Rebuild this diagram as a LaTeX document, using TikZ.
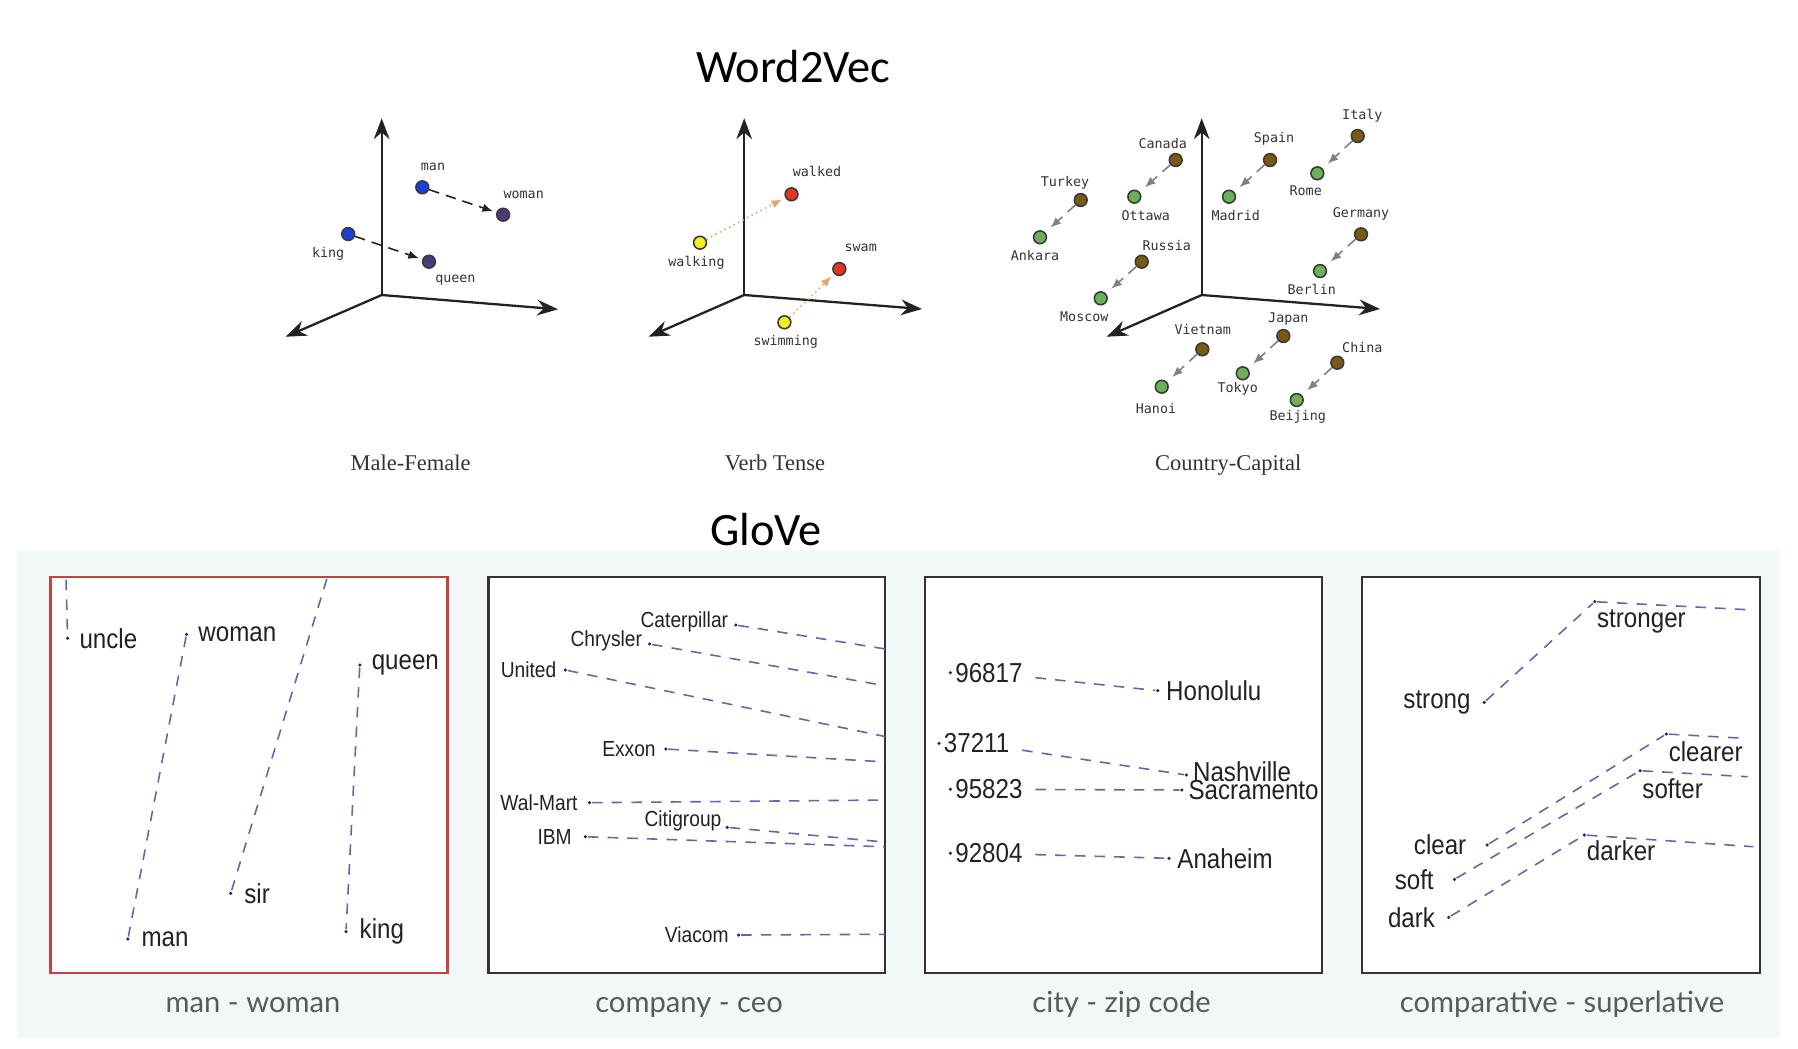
\documentclass[tikz,border=0pt]{standalone}
\usepackage{fontspec}
\setmainfont{Liberation Serif}
\newfontfamily\headfont{Carlito}
\newfontfamily\vecfont{DejaVu Sans Mono}
\newfontfamily\glovefont[FakeStretch=0.88]{Liberation Sans}
\newfontfamily\panelfont{Lato}
\usepackage{tikz}
\usetikzlibrary{arrows.meta, positioning}

\definecolor{AxisGray}{HTML}{222222}
\definecolor{TextGray}{HTML}{333333}
\definecolor{DotEdge}{HTML}{3A3A3A}
\definecolor{MaleBlue}{HTML}{1E3FE0}
\definecolor{FemPurple}{HTML}{4A3A78}
\definecolor{PastRed}{HTML}{E8331E}
\definecolor{IngYellow}{HTML}{F2EE22}
\definecolor{TenseArrow}{HTML}{E6A46A}
\definecolor{CountryBrown}{HTML}{7A5A12}
\definecolor{CapitalGreen}{HTML}{6CB058}
\definecolor{PanelBg}{HTML}{F2F7F8}
\definecolor{PanelEdge}{HTML}{333333}
\definecolor{BoxRed}{HTML}{C8403F}
\definecolor{GloveLine}{HTML}{6464B4}
\definecolor{GloveDot}{HTML}{23236B}
\definecolor{GloveText}{HTML}{222222}
\definecolor{CapGray}{HTML}{5A5A5A}

\begin{document}
\begin{tikzpicture}[x=0.01cm, y=-0.01cm, >=Stealth,
  axis/.style={->, AxisGray, line width=0.65pt},
  wdot/.style={circle, draw=DotEdge, line width=0.45pt, inner sep=0pt, minimum size=0.128cm},
  wlbl/.style={font=\vecfont\fontsize{3.8}{4.5}\selectfont, text=TextGray, inner sep=0pt},
  vecarrow/.style={densely dashed, line width=0.45pt, -{Latex[length=3pt, width=2.4pt]}, shorten >=1pt},
  subcap/.style={font=\fontsize{6.4}{7.5}\selectfont, text=TextGray, anchor=base},
  head/.style={font=\headfont\fontsize{13.2}{15}\selectfont},
  panel/.style={draw=PanelEdge, line width=0.6pt, fill=white},
  gdot/.style={circle, fill=GloveDot, inner sep=0pt, minimum size=0.035cm},
  glbl/.style={font=\glovefont\fontsize{7.8}{9}\selectfont, text=GloveText, inner sep=0.5pt},
  gsmall/.style={glbl, font=\glovefont\fontsize{6.2}{7}\selectfont},
  pair/.style={GloveLine, line width=0.45pt, dash pattern=on 3pt off 2.6pt},
  pcap/.style={font=\panelfont\fontsize{8.3}{10}\selectfont, text=CapGray, anchor=base}
]
  \useasboundingbox (0,0) rectangle (1798,1048);

  % Titles
  \node[head] (w2v) at (793.5,66.5) {Word2Vec};
  \fill[PanelBg] (17,550) rectangle (1780,1038);
  \node[head] (glove) at (766,530) {GloVe};

  % Male-Female: axes
  \coordinate (mf-o) at (381.7,295);
  \coordinate (mf-z) at (381.7,118.3);
  \coordinate (mf-x) at (558,309.3);
  \coordinate (mf-y) at (285.7,336.7);
  \draw[axis] (mf-o) -- (mf-z);
  \draw[axis] (mf-o) -- (mf-x);
  \draw[axis] (mf-o) -- (mf-y);

  % Male-Female: points
  \node[wdot, fill=MaleBlue] (mf-man) at (422.3,187.3) {};
  \node[wdot, fill=FemPurple] (mf-woman) at (503.1,214.7) {};
  \node[wdot, fill=MaleBlue] (mf-king) at (348.2,234) {};
  \node[wdot, fill=FemPurple] (mf-queen) at (429,261.7) {};
  \node[wlbl] (mf-man-l) at (433,167.3) {man};
  \node[wlbl] (mf-woman-l) at (523.7,195.3) {woman};
  \node[wlbl] (mf-king-l) at (328.1,254.3) {king};
  \node[wlbl] (mf-queen-l) at (455.4,280.3) {queen};
  \draw[vecarrow, AxisGray] (mf-man) -- (mf-woman);
  \draw[vecarrow, AxisGray] (mf-king) -- (mf-queen);
  \node[subcap] (mf-cap) at (410.5,470.7) {Male-Female};

  % Verb Tense: axes
  \coordinate (vt-o) at (744.2,295);
  \coordinate (vt-z) at (744.2,118.3);
  \coordinate (vt-x) at (921.9,309);
  \coordinate (vt-y) at (648.7,336.7);
  \draw[axis] (vt-o) -- (vt-z);
  \draw[axis] (vt-o) -- (vt-x);
  \draw[axis] (vt-o) -- (vt-y);

  % Verb Tense: points
  \node[wdot, fill=PastRed] (vt-walked) at (791.5,194.3) {};
  \node[wdot, fill=IngYellow] (vt-walking) at (700,242.7) {};
  \node[wdot, fill=PastRed] (vt-swam) at (839.3,269) {};
  \node[wdot, fill=IngYellow] (vt-swimming) at (784.4,322.3) {};
  \node[wlbl] (vt-walked-l) at (817,171) {walked};
  \node[wlbl] (vt-walking-l) at (696.4,262.7) {walking};
  \node[wlbl] (vt-swam-l) at (860.7,247.7) {swam};
  \node[wlbl] (vt-swimming-l) at (785.7,341.7) {swimming};
  \draw[vecarrow, TenseArrow, densely dotted] (vt-walking) -- (vt-walked);
  \draw[vecarrow, TenseArrow, densely dotted] (vt-swimming) -- (vt-swam);
  \node[subcap] (vt-cap) at (775,470.7) {Verb Tense};

  % Country-Capital: axes
  \coordinate (cc-o) at (1201.7,295);
  \coordinate (cc-z) at (1201.7,118.3);
  \coordinate (cc-x) at (1380,309);
  \coordinate (cc-y) at (1106.7,336.7);
  \draw[axis] (cc-o) -- (cc-z);
  \draw[axis] (cc-o) -- (cc-x);
  \draw[axis] (cc-o) -- (cc-y);

  % Country-Capital: countries
  \node[wdot, fill=CountryBrown] (cc-canada) at (1175.7,160) {};
  \node[wdot, fill=CountryBrown] (cc-turkey) at (1080.7,200) {};
  \node[wdot, fill=CountryBrown] (cc-spain) at (1270,160) {};
  \node[wdot, fill=CountryBrown] (cc-italy) at (1357.7,136) {};
  \node[wdot, fill=CountryBrown] (cc-germany) at (1361,234.3) {};
  \node[wdot, fill=CountryBrown] (cc-russia) at (1141.7,261.7) {};
  \node[wdot, fill=CountryBrown] (cc-vietnam) at (1202.3,349.3) {};
  \node[wdot, fill=CountryBrown] (cc-japan) at (1283.3,336) {};
  \node[wdot, fill=CountryBrown] (cc-china) at (1337.3,362.7) {};
  \node[wlbl] at (1162.7,143.3) (cc-canada-l) {Canada};
  \node[wlbl] at (1065,183.3) (cc-turkey-l) {Turkey};
  \node[wlbl] at (1274,139.3) (cc-spain-l) {Spain};
  \node[wlbl] at (1362.3,116) (cc-italy-l) {Italy};
  \node[wlbl] at (1361,214) (cc-germany-l) {Germany};
  \node[wlbl] at (1166.7,245.7) (cc-russia-l) {Russia};
  \node[wlbl] at (1202.7,330) (cc-vietnam-l) {Vietnam};
  \node[wlbl] at (1288.3,319) (cc-japan-l) {Japan};
  \node[wlbl] at (1362.3,347.7) (cc-china-l) {China};

  % Country-Capital: capitals
  \node[wdot, fill=CapitalGreen] (cc-ottawa) at (1134.3,196.7) {};
  \node[wdot, fill=CapitalGreen] (cc-ankara) at (1040,237.3) {};
  \node[wdot, fill=CapitalGreen] (cc-madrid) at (1229,196.7) {};
  \node[wdot, fill=CapitalGreen] (cc-rome) at (1317.3,173.3) {};
  \node[wdot, fill=CapitalGreen] (cc-berlin) at (1320,271) {};
  \node[wdot, fill=CapitalGreen] (cc-moscow) at (1100.7,298.3) {};
  \node[wdot, fill=CapitalGreen] (cc-hanoi) at (1161.7,386.7) {};
  \node[wdot, fill=CapitalGreen] (cc-tokyo) at (1242.7,373.3) {};
  \node[wdot, fill=CapitalGreen] (cc-beijing) at (1296.7,400) {};
  \node[wlbl] at (1145.7,215.7) (cc-ottawa-l) {Ottawa};
  \node[wlbl] at (1035,256) (cc-ankara-l) {Ankara};
  \node[wlbl] at (1235.7,215.7) (cc-madrid-l) {Madrid};
  \node[wlbl] at (1305.7,190.7) (cc-rome-l) {Rome};
  \node[wlbl] at (1311.7,289.3) (cc-berlin-l) {Berlin};
  \node[wlbl] at (1084.3,316.7) (cc-moscow-l) {Moscow};
  \node[wlbl] at (1156,408.3) (cc-hanoi-l) {Hanoi};
  \node[wlbl] at (1237.7,389) (cc-tokyo-l) {Tokyo};
  \node[wlbl] at (1297.7,417.3) (cc-beijing-l) {Beijing};

  % Country-Capital: arrows
  \draw[vecarrow, gray, shorten >=2pt] (cc-canada) -- (cc-ottawa);
  \draw[vecarrow, gray, shorten >=2pt] (cc-turkey) -- (cc-ankara);
  \draw[vecarrow, gray, shorten >=2pt] (cc-spain) -- (cc-madrid);
  \draw[vecarrow, gray, shorten >=2pt] (cc-italy) -- (cc-rome);
  \draw[vecarrow, gray, shorten >=2pt] (cc-germany) -- (cc-berlin);
  \draw[vecarrow, gray, shorten >=2pt] (cc-russia) -- (cc-moscow);
  \draw[vecarrow, gray, shorten >=2pt] (cc-vietnam) -- (cc-hanoi);
  \draw[vecarrow, gray, shorten >=2pt] (cc-japan) -- (cc-tokyo);
  \draw[vecarrow, gray, shorten >=2pt] (cc-china) -- (cc-beijing);
  \node[subcap] (cc-cap) at (1228.3,470.7) {Country-Capital};

  % GloVe panel 1: man - woman
  \draw[panel, draw=BoxRed] (50.5,576.8) rectangle (447.5,973.3);
  \node[gdot] (g-uncle) at (67.6,638.3) {};
  \node[gdot] (g-woman) at (186.5,634.3) {};
  \node[gdot] (g-queen) at (359.8,665) {};
  \node[gdot] (g-sir) at (230.7,893.3) {};
  \node[gdot] (g-man) at (127.9,939) {};
  \node[gdot] (g-king) at (346,931.7) {};
  \node[glbl, right=2pt of g-uncle] (g-uncle-l) {uncle};
  \node[glbl, right=2pt of g-woman] (g-woman-l) {woman};
  \node[glbl, right=2pt of g-queen] (g-queen-l) {queen};
  \node[glbl, right=2.5pt of g-sir] (g-sir-l) {sir};
  \node[glbl, right=2.5pt of g-man] (g-man-l) {man};
  \node[glbl, right=2.5pt of g-king] (g-king-l) {king};
  \coordinate (g-aunt) at (65.5,560);
  \coordinate (g-madam) at (332.6,560);
  \begin{scope}
    \clip (50.5,576.8) rectangle (447.5,973.3);
    \draw[pair] (g-aunt) -- (g-uncle);
    \draw[pair] (g-woman) -- (g-man);
    \draw[pair] (g-madam) -- (g-sir);
    \draw[pair] (g-queen) -- (g-king);
  \end{scope}
  \node[pcap] (p1-cap) at (253,1012) {man - woman};

  % GloVe panel 2: company - ceo
  \draw[panel] (488.5,576.8) rectangle (885.2,973.3);
  \node[gdot] (g-cat) at (735.8,625) {};
  \node[gdot] (g-chrysler) at (649.7,644) {};
  \node[gdot] (g-united) at (565.4,670) {};
  \node[gdot] (g-exxon) at (665.8,749) {};
  \node[gdot] (g-walmart) at (589.5,802.7) {};
  \node[gdot] (g-citi) at (727.2,827.3) {};
  \node[gdot] (g-ibm) at (585.4,836.7) {};
  \node[gdot] (g-viacom) at (738.7,935) {};
  \node[gsmall, left=0.8pt of g-cat, yshift=1pt] (g-cat-l) {Caterpillar};
  \node[gsmall, left=0.8pt of g-chrysler, yshift=1pt] (g-chrysler-l) {Chrysler};
  \node[gsmall, left=1.2pt of g-united] (g-united-l) {United};
  \node[gsmall, left=1.5pt of g-exxon] (g-exxon-l) {Exxon};
  \node[gsmall, left=2pt of g-walmart] (g-walmart-l) {Wal-Mart};
  \node[gsmall] (g-citi-l) at (683,821) {Citigroup};
  \node[gsmall, left=2.5pt of g-ibm] (g-ibm-l) {IBM};
  \node[gsmall, left=1.5pt of g-viacom] (g-viacom-l) {Viacom};
  \coordinate (g-cat-ceo) at (885,648.9);
  \coordinate (g-chrysler-ceo) at (885,685.7);
  \coordinate (g-united-ceo) at (885,736.5);
  \coordinate (g-exxon-ceo) at (885,761.9);
  \coordinate (g-walmart-ceo) at (885,800);
  \coordinate (g-citi-ceo) at (885,842.1);
  \coordinate (g-ibm-ceo) at (885,846.8);
  \coordinate (g-viacom-ceo) at (885,934.3);
  \draw[pair] (g-cat) -- (g-cat-ceo);
  \draw[pair] (g-chrysler) -- (g-chrysler-ceo);
  \draw[pair] (g-united) -- (g-united-ceo);
  \draw[pair] (g-exxon) -- (g-exxon-ceo);
  \draw[pair] (g-walmart) -- (g-walmart-ceo);
  \draw[pair] (g-citi) -- (g-citi-ceo);
  \draw[pair] (g-ibm) -- (g-ibm-ceo);
  \draw[pair] (g-viacom) -- (g-viacom-ceo);
  \node[pcap] (p2-cap) at (689,1012) {company - ceo};

  % GloVe panel 3: city - zip code
  \draw[panel] (925.4,576.8) rectangle (1322.2,973.3);
  \node[gdot] (g-96817) at (950.4,672.7) {};
  \node[gdot] (g-37211) at (939,743.3) {};
  \node[gdot] (g-95823) at (950.4,789.3) {};
  \node[gdot] (g-92804) at (950.4,853.3) {};
  \node[gdot] (g-honolulu) at (1157.7,690.7) {};
  \node[gdot] (g-nashville) at (1186.4,775) {};
  \node[gdot] (g-sacramento) at (1181.8,790) {};
  \node[gdot] (g-anaheim) at (1169,858.3) {};
  \node[glbl, right=0pt of g-96817] (g-96817-l) {96817};
  \node[glbl, right=0pt of g-37211] (g-37211-l) {37211};
  \node[glbl, right=0pt of g-95823] (g-95823-l) {95823};
  \node[glbl, right=0pt of g-92804] (g-92804-l) {92804};
  \node[glbl, right=1pt of g-honolulu] (g-honolulu-l) {Honolulu};
  \node[glbl, right=0.5pt of g-nashville, yshift=1pt] (g-nashville-l) {Nashville};
  \node[glbl, right=0.5pt of g-sacramento] (g-sacramento-l) {Sacramento};
  \node[glbl, right=1pt of g-anaheim] (g-anaheim-l) {Anaheim};
  \draw[pair, shorten <=3pt] (g-96817-l) -- (g-honolulu);
  \draw[pair, shorten <=3pt] (g-37211-l) -- (g-nashville);
  \draw[pair, shorten <=3pt] (g-95823-l) -- (g-sacramento);
  \draw[pair, shorten <=3pt] (g-92804-l) -- (g-anaheim);
  \node[pcap] (p3-cap) at (1121.5,1012) {city - zip code};

  % GloVe panel 4: comparative - superlative
  \draw[panel] (1362.3,576.8) rectangle (1760.2,973.3);
  \node[gdot] (g-strong) at (1484.2,702.3) {};
  \node[gdot] (g-clear) at (1487,845) {};
  \node[gdot] (g-soft) at (1454.4,879.3) {};
  \node[gdot] (g-dark) at (1448.7,917.3) {};
  \node[gdot] (g-stronger) at (1594.7,601.7) {};
  \node[gdot] (g-clearer) at (1666.3,734) {};
  \node[gdot] (g-softer) at (1640,770.7) {};
  \node[gdot] (g-darker) at (1584.4,835) {};
  \node[glbl, left=2.5pt of g-strong] (g-strong-l) {strong};
  \node[glbl, left=4.5pt of g-clear] (g-clear-l) {clear};
  \node[glbl, left=4.5pt of g-soft] (g-soft-l) {soft};
  \node[glbl, left=2.5pt of g-dark] (g-dark-l) {dark};
  \node[glbl, below right=1pt and -0.5pt of g-stronger] (g-stronger-l) {stronger};
  \node[glbl, below right=1pt and -0.5pt of g-clearer] (g-clearer-l) {clearer};
  \node[glbl, below right=1pt and -0.5pt of g-softer] (g-softer-l) {softer};
  \node[glbl, below right=0.5pt and -0.5pt of g-darker] (g-darker-l) {darker};
  \coordinate (g-strongest) at (1753.4,610);
  \coordinate (g-clearest) at (1744.8,738.3);
  \coordinate (g-softest) at (1747.6,776.7);
  \coordinate (g-darkest) at (1753.4,846.7);
  \draw[pair] (g-strong) -- (g-stronger);
  \draw[pair] (g-clear) -- (g-clearer);
  \draw[pair] (g-soft) -- (g-softer);
  \draw[pair] (g-dark) -- (g-darker);
  \draw[pair] (g-stronger) -- (g-strongest);
  \draw[pair] (g-clearer) -- (g-clearest);
  \draw[pair] (g-softer) -- (g-softest);
  \draw[pair] (g-darker) -- (g-darkest);
  \node[pcap] (p4-cap) at (1562,1012) {comparative - superlative};
\end{tikzpicture}
\end{document}
